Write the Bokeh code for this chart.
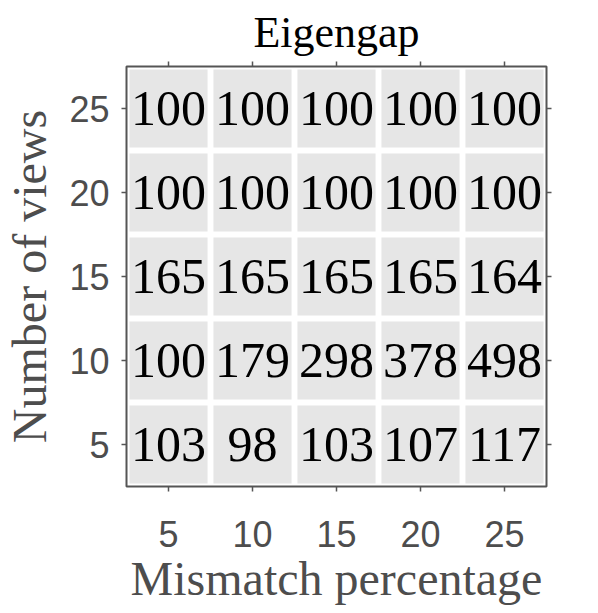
from bokeh.plotting import figure
from bokeh.models import ColumnDataSource, Range1d, LinearAxis, FixedTicker
from bokeh.core.properties import value
from bokeh.embed import file_html
from bokeh.resources import INLINE

mismatch = [5, 10, 15, 20, 25]
views = [5, 10, 15, 20, 25]
# rows indexed by views (5,10,15,20,25), columns by mismatch
vals_v5 = [103, 98, 103, 107, 117]
vals_v10 = [100, 179, 298, 378, 498]
vals_v15 = [165, 165, 165, 165, 164]
vals_v20 = [100, 100, 100, 100, 100]
vals_v25 = [100, 100, 100, 100, 100]
rows = [vals_v5, vals_v10, vals_v15, vals_v20, vals_v25]

xs, ys, txt = [], [], []
for vi, v in enumerate(views):
    for mi, m in enumerate(mismatch):
        xs.append(m)
        ys.append(v)
        txt.append(str(rows[vi][mi]))
src = ColumnDataSource(dict(x=xs, y=ys, t=txt))

p = figure(frame_width=420, frame_height=420, output_backend="svg", toolbar_location=None,
           x_range=Range1d(2.5, 27.5), y_range=Range1d(2.5, 27.5),
           min_border_left=116, min_border_right=44, min_border_top=65, min_border_bottom=112)
p.title.text = "Eigengap"
p.title.align = "center"
p.title.text_font = "Liberation Serif"
p.title.text_font_size = "44px"
p.title.text_font_style = "normal"
p.title.text_color = "black"

p.background_fill_color = "white"
p.border_fill_color = "white"
p.outline_line_color = "#555555"
p.outline_line_width = 2
p.xgrid.grid_line_color = None
p.ygrid.grid_line_color = None

p.rect(x="x", y="y", width=4.65, height=4.65, source=src, fill_color="#e6e6e6", line_color=None)
p.text(x="x", y="y", text="t", source=src, text_align="center", text_baseline="middle",
       text_font=value("Liberation Serif"), text_font_size="50px", text_color="black")

for ax in [p.xaxis[0], p.yaxis[0]]:
    ax.ticker = FixedTicker(ticks=mismatch)
    ax.major_label_text_font = "Liberation Sans"
    ax.major_label_text_font_size = "36px"
    ax.major_label_text_color = "#4d4d4d"
    ax.axis_label_text_font = "Liberation Serif"
    ax.axis_label_text_font_size = "48px"
    ax.axis_label_text_font_style = "normal"
    ax.axis_label_text_color = "#4d4d4d"
    ax.major_tick_line_color = "#555555"
    ax.major_tick_line_width = 1.5
    ax.major_tick_out = 5
    ax.major_tick_in = 0
    ax.minor_tick_line_color = None
    ax.axis_line_color = None
p.xaxis[0].axis_label = "Mismatch percentage"
p.yaxis[0].axis_label = "Number of views"
p.xaxis[0].major_label_standoff = 29
p.yaxis[0].major_label_standoff = 12
p.xaxis[0].axis_label_standoff = 2
p.yaxis[0].axis_label_standoff = 10

for loc in ["above", "right"]:
    ax = LinearAxis(ticker=FixedTicker(ticks=views))
    ax.major_label_overrides = {t: "" for t in views}
    ax.major_label_text_font_size = "1px"
    ax.major_tick_line_color = "#555555"
    ax.major_tick_line_width = 1.5
    ax.major_tick_out = 5
    ax.major_tick_in = 0
    ax.minor_tick_line_color = None
    ax.axis_line_color = None
    ax.major_label_standoff = 0
    p.add_layout(ax, loc)

open("out.html", "w").write(file_html(p, INLINE))
